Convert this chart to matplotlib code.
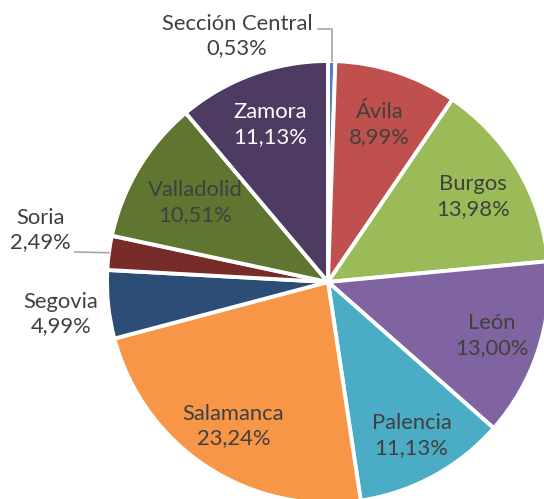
import numpy as np
import matplotlib
matplotlib.use("Agg")
import matplotlib.pyplot as plt

categories = ["Sección Central", "Ávila", "Burgos", "León", "Palencia",
              "Salamanca", "Segovia", "Soria", "Valladolid", "Zamora"]
values = [0.53, 8.99, 13.98, 13.00, 11.13, 23.24, 4.99, 2.49, 10.51, 11.13]
pct_labels = ["0,53%", "8,99%", "13,98%", "13,00%", "11,13%",
              "23,24%", "4,99%", "2,49%", "10,51%", "11,13%"]

colors = ["#4F81BD", "#C0504D", "#9BBB59", "#8064A2", "#4BACC6",
          "#F79646", "#2C4D75", "#772C2A", "#5F7530", "#4D3B62"]
text_colors = ["#404040"] * 9 + ["#FFFFFF"]

W, H = 544, 499
fig = plt.figure(figsize=(W / 100, H / 100), dpi=100)
ax = fig.add_axes([0, 0, 1, 1])

cx, cy, R = 328, H - 282, 221
wedges, _ = ax.pie(values, colors=colors, startangle=90, counterclock=False,
                   center=(cx, cy), radius=R,
                   wedgeprops=dict(edgecolor="white", linewidth=2.8))
ax.set_xlim(0, W)
ax.set_ylim(0, H)
ax.set_aspect("equal")
ax.axis("off")

FONT = ["Lato", "DejaVu Sans"]
FS = 15.8

# inside labels: radius fraction along wedge middle
inside = {1: 0.75, 2: 0.76, 3: 0.78, 4: 0.79, 5: 0.78, 8: 0.70, 9: 0.76}
for i, frac in inside.items():
    w = wedges[i]
    ang = np.deg2rad((w.theta1 + w.theta2) / 2)
    x = cx + R * frac * np.cos(ang)
    y = cy + R * frac * np.sin(ang)
    ax.text(x, y, f"{categories[i]}\n{pct_labels[i]}", ha="center", va="center",
            color=text_colors[i], fontsize=FS, family=FONT, linespacing=1.3)

# outside labels
outside = {0: (237, 36), 6: (61, 314), 7: (40, 230)}
for i, (px, py) in outside.items():
    ax.text(px, H - py, f"{categories[i]}\n{pct_labels[i]}", ha="center", va="center",
            color=text_colors[i], fontsize=FS, family=FONT, linespacing=1.3)

def edge_point(i):
    w = wedges[i]
    ang = np.deg2rad((w.theta1 + w.theta2) / 2)
    return cx + R * np.cos(ang), cy + R * np.sin(ang)

# leader lines
x0, y0 = edge_point(0)
ax.plot([x0, x0, 318], [y0, H - 29, H - 29], color="#A6A6A6", lw=1.2)
x7, y7 = edge_point(7)
ax.plot([x7, 75], [y7, H - 252], color="#A6A6A6", lw=1.2)

fig.savefig("out.png", dpi=100)
